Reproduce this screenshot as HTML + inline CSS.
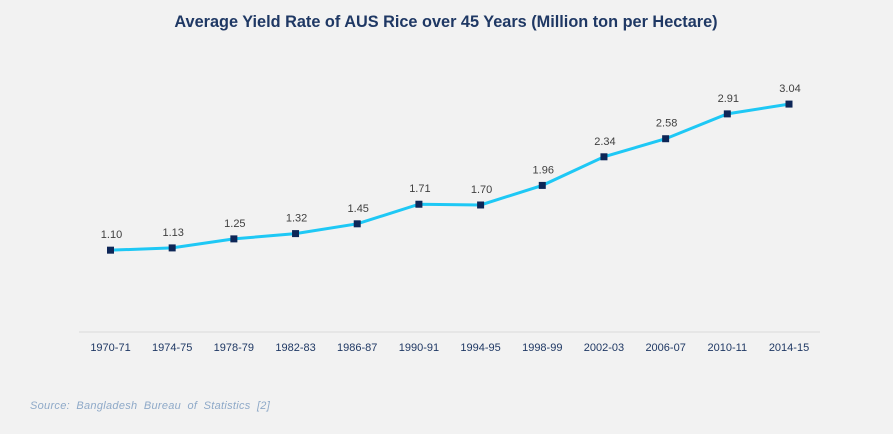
<!DOCTYPE html>
<html><head><meta charset="utf-8"><style>
html,body{margin:0;padding:0;background:#f2f2f2;}
svg{display:block;font-family:"Liberation Sans",sans-serif;}
</style></head><body>
<svg id="chart" width="893" height="434">
<rect width="893" height="434" fill="#f2f2f2"/>
<text x="446" y="27" text-anchor="middle" font-size="16.3" font-weight="bold" fill="#1f3864">Average Yield Rate of AUS Rice over 45 Years (Million ton per Hectare)</text>
<line x1="79" y1="332" x2="820" y2="332" stroke="#d9d9d9" stroke-width="1"/>
<g id="xlabels"></g>
<path id="series" fill="none" stroke="#1ec8f5" stroke-width="3"/>
<g id="marks"></g>
<text x="30" y="409" font-size="11" font-style="italic" fill="#8ea9c8" word-spacing="3" letter-spacing="0.3">Source:  Bangladesh  Bureau  of Statistics  [2]</text>
</svg>
<script>
const categories=["1970-71","1974-75","1978-79","1982-83","1986-87","1990-91","1994-95","1998-99","2002-03","2006-07","2010-11","2014-15"];
const values=[1.10,1.13,1.25,1.32,1.45,1.71,1.70,1.96,2.34,2.58,2.91,3.04];
const valueLabels=["1.10","1.13","1.25","1.32","1.45","1.71","1.70","1.96","2.34","2.58","2.91","3.04"];
const ns="http://www.w3.org/2000/svg";
function xPos(i){return 110.5+i*(789-110.5)/(categories.length-1);}
function yPos(v){return 333-v*75.3;}
const xl=document.getElementById('xlabels'),mk=document.getElementById('marks');
let d="";
categories.forEach((c,i)=>{
  const t=document.createElementNS(ns,'text');
  t.setAttribute('x',xPos(i));t.setAttribute('y',351);t.setAttribute('text-anchor','middle');
  t.setAttribute('font-size','11');t.setAttribute('fill','#1f3864');t.textContent=c;
  
  
  xl.appendChild(t);
  d+=(i?"L":"M")+xPos(i)+","+yPos(values[i]);
});
document.getElementById('series').setAttribute('d',d);
values.forEach((v,i)=>{
  const r=document.createElementNS(ns,'rect');
  r.setAttribute('x',xPos(i)-3.5);r.setAttribute('y',yPos(v)-3.5);r.setAttribute('width',7);r.setAttribute('height',7);r.setAttribute('fill','#0d2657');
  
  
  mk.appendChild(r);
  const t=document.createElementNS(ns,'text');
  t.setAttribute('x',xPos(i)+1);t.setAttribute('y',yPos(v)-12);t.setAttribute('text-anchor','middle');
  t.setAttribute('font-size','11');t.setAttribute('fill','#404040');t.textContent=valueLabels[i];
  
  
  mk.appendChild(t);
});
</script>
</body></html>
